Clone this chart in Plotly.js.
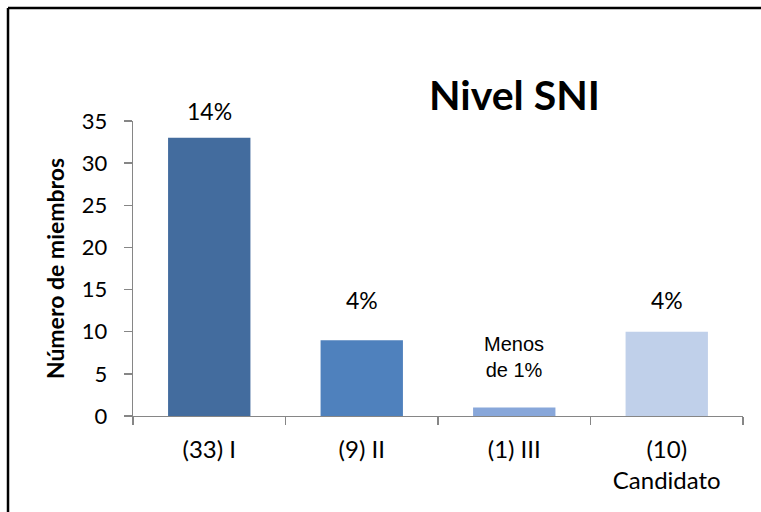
<!DOCTYPE html>
<html><head><meta charset="utf-8">
<script src="https://cdn.plot.ly/plotly-3.0.1.min.js"></script>
<style>html,body{margin:0;padding:0;background:#fff;overflow:hidden;}#chart{width:761px;height:512px;}</style>
</head><body><div id="chart"></div>
<script>
// Data
const categories = ["(33) I", "(9) II", "(1) III", "(10)<br>Candidato"];
const members = [33, 9, 1, 10];
const percentLabels = ["14%", "4%", "Menos<br>de 1%", "4%"];
const yTickValues = [0, 5, 10, 15, 20, 25, 30, 35];

// Styles
const FONT = "Lato, 'Open Sans', sans-serif";
const barColors = ["#436C9E", "#4F81BD", "#88A7DA", "#C0D0EA"];
const labelShift = [27, 40, 51, 32];
const labelFonts = [
  {family: FONT, size: 23, color: "#000"},
  {family: FONT, size: 23, color: "#000"},
  {family: "'Liberation Sans', Arial, sans-serif", size: 20, color: "#000"},
  {family: FONT, size: 23, color: "#000"}
];

const trace = {
  type: "bar",
  x: categories,
  y: members,
  marker: {color: barColors},
  width: 0.54,
  hoverinfo: "none"
};

const annotations = categories.map((c, i) => ({
  x: c, y: members[i], xref: "x", yref: "y",
  text: percentLabels[i], showarrow: false,
  yshift: labelShift[i], font: labelFonts[i], align: "center"
}));
annotations.push({
  text: "<b>Nivel SNI</b>", xref: "paper", yref: "paper",
  x: 0.6246, y: 1.09, xanchor: "center", yanchor: "middle", showarrow: false,
  font: {family: FONT, size: 41, color: "#000"}
});

const borderLine = {color: "#000", width: 2.5};

const layout = {
  width: 761, height: 512,
  margin: {l: 133, r: 18, t: 121, b: 96},
  paper_bgcolor: "#fff", plot_bgcolor: "#fff",
  showlegend: false,
  font: {family: FONT, size: 22, color: "#000"},
  xaxis: {
    type: "category",
    showline: true, linecolor: "#868686", linewidth: 1.3,
    ticks: "outside", tickson: "boundaries", ticklen: 8, tickcolor: "#868686", tickwidth: 1.3,
    showgrid: false, zeroline: false,
    ticklabelstandoff: 12,
    tickfont: {family: FONT, size: 24, color: "#000"},
    range: [-0.5, 3.5]
  },
  yaxis: {
    range: [0, 35], tickvals: yTickValues,
    showline: true, linecolor: "#868686", linewidth: 1.3,
    ticks: "outside", ticklen: 8, tickcolor: "#868686", tickwidth: 1.3,
    showgrid: false, zeroline: false,
    ticklabelstandoff: 12,
    tickfont: {family: FONT, size: 22, color: "#000"},
    title: {text: "<b>Número de miembros</b>", standoff: 10,
            font: {family: FONT, size: 23, color: "#000"}}
  },
  annotations: annotations,
  shapes: [
    {type: "line", xref: "paper", yref: "paper", x0: -0.2049, x1: 1.0295, y0: 1.383, y1: 1.383, line: borderLine, layer: "above"},
    {type: "line", xref: "paper", yref: "paper", x0: -0.2049, x1: -0.2049, y0: 1.383, y1: -0.33, line: borderLine, layer: "above"}
  ]
};

Plotly.newPlot("chart", [trace], layout, {displayModeBar: false, staticPlot: true});
</script></body></html>
